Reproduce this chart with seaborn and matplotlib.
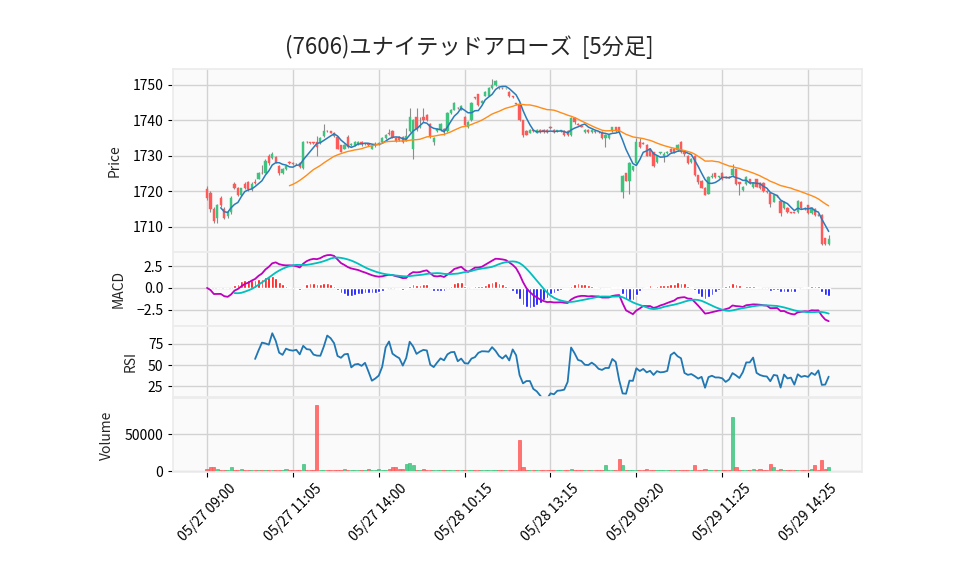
import numpy as np
import pandas as pd
import seaborn as sns
import matplotlib
matplotlib.use('Agg')
import matplotlib.pyplot as plt

# 5分足 OHLC
opens = [1720.5, 1719.5, 1715.0, 1712.5, 1718.0, 1715.0, 1713.0, 1714.0, 1722.0, 1721.0,
         1719.0, 1722.0, 1722.5, 1720.5, 1722.5, 1723.5, 1725.2, 1725.2, 1730.0, 1729.5,
         1729.6, 1727.0, 1725.0, 1726.2, 1728.2, 1728.0, 1727.8, 1728.0, 1726.5, 1734.0,
         1733.8, 1733.8, 1734.0, 1733.5, 1735.5, 1737.0, 1736.9, 1736.5, 1735.2, 1732.9,
         1732.0, 1735.2, 1733.0, 1732.9, 1733.2, 1734.0, 1733.2, 1733.4, 1732.0, 1733.0,
         1733.2, 1734.0, 1735.0, 1736.5, 1737.0, 1735.0, 1735.3, 1735.3, 1734.3, 1737.0,
         1732.0, 1741.0, 1738.0, 1741.0, 1741.5, 1739.0, 1734.0, 1737.0, 1737.2, 1737.5,
         1737.0, 1742.0, 1743.0, 1743.5, 1743.0, 1741.0, 1738.0, 1740.0, 1746.5, 1747.3,
         1745.0, 1747.0, 1747.0, 1749.0, 1750.0, 1749.2, 1749.2, 1749.0, 1748.0, 1746.8,
         1744.8, 1744.6, 1740.0, 1737.0, 1736.5, 1737.2, 1736.5, 1737.3, 1737.3, 1737.3,
         1738.0, 1737.3, 1737.0, 1737.0, 1737.0, 1737.0, 1735.8, 1740.8, 1739.0, 1738.5,
         1736.6, 1737.4, 1736.6, 1737.0, 1736.8, 1736.8, 1735.0, 1735.0, 1737.0, 1738.0,
         1738.0, 1719.8, 1725.0, 1723.0, 1726.0, 1728.0, 1734.0, 1733.6, 1733.0, 1732.0,
         1731.0, 1728.3, 1730.8, 1730.0, 1730.8, 1732.0, 1732.0, 1731.5, 1734.0, 1731.2,
         1730.0, 1728.2, 1730.0, 1724.5, 1723.0, 1721.0, 1719.3, 1724.0, 1725.0, 1724.0,
         1725.2, 1724.0, 1724.0, 1724.6, 1726.2, 1722.5, 1720.2, 1722.0, 1723.3, 1721.2,
         1723.3, 1722.3, 1722.3, 1720.0, 1719.5, 1717.0, 1718.8, 1717.2, 1715.2, 1715.2,
         1714.0, 1714.0, 1714.0, 1717.0, 1715.2, 1716.0, 1713.8, 1715.0, 1713.3, 1713.3,
         1706.7, 1705.0]
closes = [1718.0, 1715.0, 1711.5, 1716.0, 1716.0, 1712.5, 1714.0, 1718.0, 1720.8, 1718.8,
          1720.8, 1721.0, 1720.5, 1722.0, 1722.2, 1725.0, 1725.0, 1728.5, 1728.0, 1730.5,
          1728.2, 1725.0, 1726.2, 1727.0, 1727.9, 1727.8, 1727.6, 1726.8, 1734.0, 1733.8,
          1733.6, 1733.5, 1732.6, 1735.0, 1737.0, 1736.9, 1736.5, 1735.5, 1732.0, 1731.2,
          1733.0, 1732.4, 1733.2, 1734.0, 1734.0, 1733.2, 1733.4, 1733.0, 1732.8, 1733.2,
          1733.6, 1735.0, 1736.0, 1736.2, 1735.2, 1734.2, 1734.5, 1733.9, 1735.6, 1741.0,
          1740.0, 1737.5, 1738.5, 1740.0, 1740.0, 1735.2, 1735.0, 1737.6, 1739.0, 1737.0,
          1742.0, 1743.0, 1745.0, 1743.4, 1744.0, 1738.8, 1739.5, 1745.0, 1746.3, 1744.2,
          1745.5, 1748.0, 1749.0, 1750.0, 1751.0, 1749.0, 1749.0, 1749.0, 1746.8, 1746.5,
          1744.6, 1740.0, 1736.0, 1736.0, 1737.3, 1737.0, 1737.3, 1736.6, 1736.6, 1736.6,
          1737.8, 1736.6, 1737.0, 1737.0, 1735.8, 1735.8, 1740.8, 1739.6, 1738.8, 1738.2,
          1737.4, 1736.6, 1737.4, 1736.6, 1736.6, 1735.0, 1736.0, 1736.0, 1738.0, 1737.0,
          1736.6, 1724.3, 1723.0, 1728.0, 1727.0, 1734.0, 1732.5, 1733.4, 1730.0, 1730.0,
          1727.0, 1730.0, 1731.0, 1730.4, 1731.0, 1731.0, 1731.0, 1733.0, 1731.0, 1730.6,
          1728.0, 1729.2, 1724.5, 1722.7, 1721.0, 1719.0, 1724.0, 1724.3, 1724.0, 1724.0,
          1723.3, 1723.8, 1723.8, 1726.2, 1722.0, 1722.0, 1721.2, 1724.0, 1722.3, 1722.3,
          1721.3, 1720.8, 1720.0, 1719.8, 1716.3, 1719.0, 1718.6, 1713.8, 1717.0, 1714.0,
          1713.9, 1713.9, 1717.2, 1715.2, 1715.0, 1713.7, 1715.2, 1713.3, 1713.2, 1705.0,
          1705.0, 1706.6]
highs = [1721.5, 1720.0, 1715.5, 1716.5, 1718.5, 1715.5, 1714.5, 1718.5, 1722.5, 1721.2,
         1721.0, 1722.5, 1723.0, 1722.5, 1723.5, 1725.3, 1727.5, 1729.0, 1730.5, 1731.0,
         1730.0, 1727.5, 1726.5, 1727.3, 1728.4, 1728.2, 1728.0, 1728.3, 1734.3, 1734.2,
         1734.0, 1734.0, 1735.7, 1735.3, 1739.0, 1737.2, 1737.1, 1736.8, 1735.5, 1733.0,
         1733.2, 1735.9, 1733.5, 1734.2, 1734.3, 1734.2, 1733.6, 1733.6, 1733.0, 1734.0,
         1733.8, 1735.2, 1736.2, 1737.5, 1737.2, 1735.2, 1735.5, 1735.5, 1737.8, 1743.5,
         1740.5, 1743.5, 1741.0, 1743.5, 1741.8, 1739.3, 1735.3, 1737.8, 1739.2, 1737.8,
         1742.3, 1743.3, 1745.3, 1743.8, 1744.3, 1741.3, 1739.8, 1745.3, 1746.7, 1747.5,
         1745.8, 1748.3, 1749.3, 1751.8, 1751.3, 1749.4, 1749.4, 1749.2, 1748.2, 1747.0,
         1745.0, 1744.8, 1740.2, 1737.2, 1737.5, 1737.4, 1737.5, 1737.5, 1737.5, 1737.5,
         1738.3, 1737.5, 1737.2, 1737.2, 1737.2, 1737.2, 1741.0, 1741.0, 1739.2, 1738.7,
         1737.6, 1737.6, 1737.6, 1737.2, 1737.0, 1737.0, 1736.2, 1736.2, 1738.2, 1738.2,
         1738.2, 1724.5, 1725.2, 1728.2, 1727.2, 1735.0, 1735.0, 1733.8, 1733.2, 1732.2,
         1731.2, 1730.2, 1731.2, 1731.0, 1731.3, 1732.2, 1732.2, 1733.2, 1734.2, 1731.4,
         1730.2, 1729.4, 1730.2, 1724.7, 1723.2, 1721.2, 1724.2, 1725.0, 1725.2, 1724.2,
         1725.4, 1724.2, 1724.2, 1727.8, 1726.4, 1722.7, 1721.4, 1724.2, 1723.5, 1722.5,
         1723.5, 1722.5, 1722.5, 1720.2, 1719.7, 1719.2, 1719.0, 1717.4, 1717.2, 1715.4,
         1714.2, 1714.2, 1717.4, 1717.2, 1715.4, 1716.2, 1715.4, 1715.2, 1713.5, 1713.5,
         1706.9, 1707.5]
lows = [1717.5, 1714.0, 1711.0, 1711.0, 1715.5, 1712.0, 1712.5, 1713.5, 1720.5, 1718.5,
        1718.5, 1720.5, 1720.0, 1720.0, 1722.0, 1723.3, 1724.8, 1725.0, 1727.5, 1729.0,
        1728.0, 1724.5, 1724.8, 1726.0, 1727.6, 1727.5, 1727.4, 1726.5, 1726.2, 1733.6,
        1733.4, 1733.3, 1730.0, 1733.3, 1735.3, 1736.7, 1736.3, 1735.2, 1731.8, 1731.0,
        1731.8, 1732.2, 1732.8, 1732.7, 1733.0, 1732.8, 1733.0, 1732.8, 1731.8, 1732.5,
        1733.0, 1733.8, 1734.8, 1736.0, 1735.0, 1734.0, 1734.3, 1733.7, 1734.1, 1736.8,
        1729.0, 1737.0, 1737.8, 1739.5, 1739.8, 1735.0, 1733.0, 1736.8, 1737.0, 1736.0,
        1736.8, 1741.8, 1742.8, 1743.2, 1742.8, 1738.5, 1737.8, 1739.8, 1746.0, 1744.0,
        1744.8, 1746.8, 1746.8, 1748.8, 1749.8, 1748.8, 1748.8, 1748.8, 1746.6, 1746.3,
        1744.4, 1739.8, 1735.3, 1735.8, 1736.3, 1736.8, 1736.3, 1736.4, 1736.4, 1736.4,
        1737.6, 1736.4, 1736.8, 1736.8, 1735.6, 1735.6, 1735.6, 1739.0, 1738.6, 1738.0,
        1736.4, 1736.4, 1736.4, 1736.4, 1736.4, 1734.8, 1732.5, 1734.8, 1736.8, 1736.8,
        1736.4, 1718.0, 1722.8, 1719.3, 1725.8, 1727.8, 1732.3, 1733.2, 1729.8, 1729.8,
        1726.8, 1728.0, 1730.6, 1728.2, 1730.6, 1730.8, 1730.8, 1731.3, 1730.8, 1730.0,
        1727.8, 1728.0, 1724.3, 1722.0, 1720.8, 1718.8, 1719.1, 1723.8, 1723.8, 1723.8,
        1723.1, 1723.6, 1723.6, 1724.4, 1721.8, 1719.0, 1720.0, 1721.8, 1722.1, 1721.0,
        1721.1, 1720.6, 1719.8, 1719.6, 1715.5, 1716.8, 1718.4, 1713.0, 1715.0, 1713.8,
        1713.7, 1713.7, 1713.8, 1715.0, 1714.8, 1713.5, 1713.6, 1713.1, 1713.0, 1704.8,
        1704.8, 1704.8]
volumes = [3000, 5300, 6200, 3500, 1000, 1000, 1800, 4900, 1800, 1800,
           3500, 1800, 1800, 1800, 1200, 1800, 1800, 1800, 1200, 1200,
           1800, 1200, 1800, 3500, 1000, 900, 1800, 1800, 10000, 1000,
           900, 1000, 89000, 1800, 1800, 1000, 1800, 1200, 1800, 1800,
           3500, 1800, 1800, 1200, 1800, 1000, 1000, 3500, 1200, 1200,
           3500, 1800, 1800, 3500, 4900, 4900, 3500, 3500, 9000, 11600,
           7600, 1000, 1800, 3500, 1000, 1000, 1000, 1800, 1000, 900,
           900, 1000, 1000, 900, 1800, 900, 900, 900, 900, 900,
           900, 900, 900, 900, 900, 900, 900, 900, 900, 900,
           900, 42000, 4900, 1000, 1800, 1000, 1000, 1800, 900, 900,
           900, 900, 900, 1000, 1800, 900, 3500, 900, 900, 900,
           1000, 1800, 900, 900, 1000, 1800, 7600, 1800, 1800, 1800,
           17000, 7600, 1000, 1000, 1000, 1800, 1800, 1000, 3500, 1000,
           1800, 900, 900, 900, 900, 900, 1000, 1800, 1800, 1800,
           1000, 1800, 7600, 1800, 1800, 3500, 1800, 900, 900, 900,
           900, 900, 900, 73000, 6200, 1000, 1800, 1800, 1000, 3500,
           1000, 3500, 1000, 900, 9000, 6200, 1000, 3500, 1800, 900,
           900, 900, 1800, 1800, 1800, 1000, 3500, 8500, 1800, 15600,
           3500, 4900]

tick_pos = [0, 25, 50, 75, 100, 125, 150, 175]
tick_labels = ['05/27 09:00', '05/27 11:05', '05/27 14:00', '05/28 10:15',
               '05/28 13:15', '05/29 09:20', '05/29 11:25', '05/29 14:25']
title = '(7606)ユナイテッドアローズ  [5分足]'

df = pd.DataFrame({'open': opens, 'high': highs, 'low': lows, 'close': closes, 'volume': volumes})
df['i'] = np.arange(len(df))
df['ma5'] = df['close'].rolling(5).mean()
df['ma25'] = df['close'].rolling(25).mean()
# MACD (12, 26, 9) - signal is a simple 9-bar average
ema12 = df['close'].ewm(span=12, adjust=False).mean()
ema26 = df['close'].ewm(span=26, adjust=False).mean()
df['macd'] = ema12 - ema26
df['signal'] = df['macd'].rolling(9).mean()
df['hist'] = df['macd'] - df['signal']
# RSI(14)
diff = df['close'].diff()
gain = diff.clip(lower=0).rolling(14).mean()
loss = (-diff.clip(upper=0)).rolling(14).mean()
df['rsi'] = 100 - 100 / (1 + gain / loss)

sns.set_theme(style='whitegrid', rc={
    'axes.facecolor': '#fafafa', 'axes.edgecolor': '#ececec', 'grid.color': '#d2d2d2',
    'grid.linewidth': 1.0, 'xtick.bottom': True, 'ytick.left': True,
    'xtick.color': 'black', 'ytick.color': 'black', 'xtick.major.size': 3.5,
    'ytick.major.size': 3.5, 'font.size': 10})
plt.rcParams['font.family'] = ['Noto Sans CJK JP', 'DejaVu Sans']

up_c = '#3ec47f'
dn_c = '#ff5a5a'
up = df['close'] >= df['open']
cols = np.where(up, up_c, dn_c)

fig = plt.figure(figsize=(9.58, 5.75), dpi=100)
L, W = 0.1806, 0.7192
ax1 = fig.add_axes([L, 0.561, W, 0.319])
ax2 = fig.add_axes([L, 0.433, W, 0.128], sharex=ax1)
ax3 = fig.add_axes([L, 0.309, W, 0.124], sharex=ax1)
ax4 = fig.add_axes([L, 0.179, W, 0.128], sharex=ax1)

# candles
ax1.vlines(df['i'], df['low'], df['high'], color='#8c8c8c', linewidth=0.8, zorder=2)
body = (df['close'] - df['open']).abs().clip(lower=0.15)
ax1.bar(df['i'], body, bottom=df[['open', 'close']].min(axis=1), width=0.65,
        color=cols, edgecolor=cols, linewidth=0.3, zorder=3)
sns.lineplot(data=df, x='i', y='ma5', ax=ax1, color='#2b7bba', linewidth=1.1, zorder=4)
sns.lineplot(data=df, x='i', y='ma25', ax=ax1, color='#ff8c1a', linewidth=1.0, zorder=4)
ax1.set_ylim(1702.7, 1754.5)
ax1.set_yticks([1710, 1720, 1730, 1740, 1750])
ax1.set_ylabel('Price', fontsize=10, labelpad=7.5)

# MACD
hcols = np.where(df['hist'] >= 0, 'red', 'blue')
ax2.bar(df['i'], df['hist'].fillna(0), width=0.8, color=hcols, zorder=2)
sns.lineplot(data=df, x='i', y='macd', ax=ax2, color='#bf00bf', linewidth=1.3, zorder=3)
sns.lineplot(data=df, x='i', y='signal', ax=ax2, color='#00bfbf', linewidth=1.3, zorder=3)
ax2.set_ylim(-4.4, 4.1)
ax2.set_yticks([-2.5, 0.0, 2.5])
ax2.set_yticklabels(['−2.5', '0.0', '2.5'])
ax2.set_ylabel('MACD', fontsize=10, labelpad=7.5)

# RSI
sns.lineplot(data=df, x='i', y='rsi', ax=ax3, color='#1f77b4', linewidth=1.3)
ax3.set_ylim(12, 96)
ax3.set_yticks([25, 50, 75])
ax3.set_ylabel('RSI', fontsize=10, labelpad=7.5)

# volume
ax4.bar(df['i'], df['volume'], width=0.9, color=cols, edgecolor=cols, alpha=0.85, linewidth=0.6)
ax4.set_ylim(-1300, 98000)
ax4.set_yticks([0, 50000])
ax4.set_yticklabels(['0', '50000'])
ax4.set_ylabel('Volume', fontsize=10, labelpad=7.5)

for ax in (ax1, ax2, ax3):
    ax.tick_params(axis='x', labelbottom=False, bottom=False)
    ax.set_xlabel('')
ax4.set_xlabel('')
ax1.set_xlim(-9.9, 190.7)
ax4.set_xticks(tick_pos)
ax4.set_xticklabels(tick_labels, rotation=45, ha='center')
for ax in (ax1, ax2, ax3, ax4):
    ax.tick_params(axis='both', labelsize=10, length=3.5, width=0.8)
    for s in ax.spines.values():
        s.set_color('#ececec')

fig.suptitle(title, x=0.49, y=0.94, fontsize=16)
fig.savefig('out.png', dpi=100)
